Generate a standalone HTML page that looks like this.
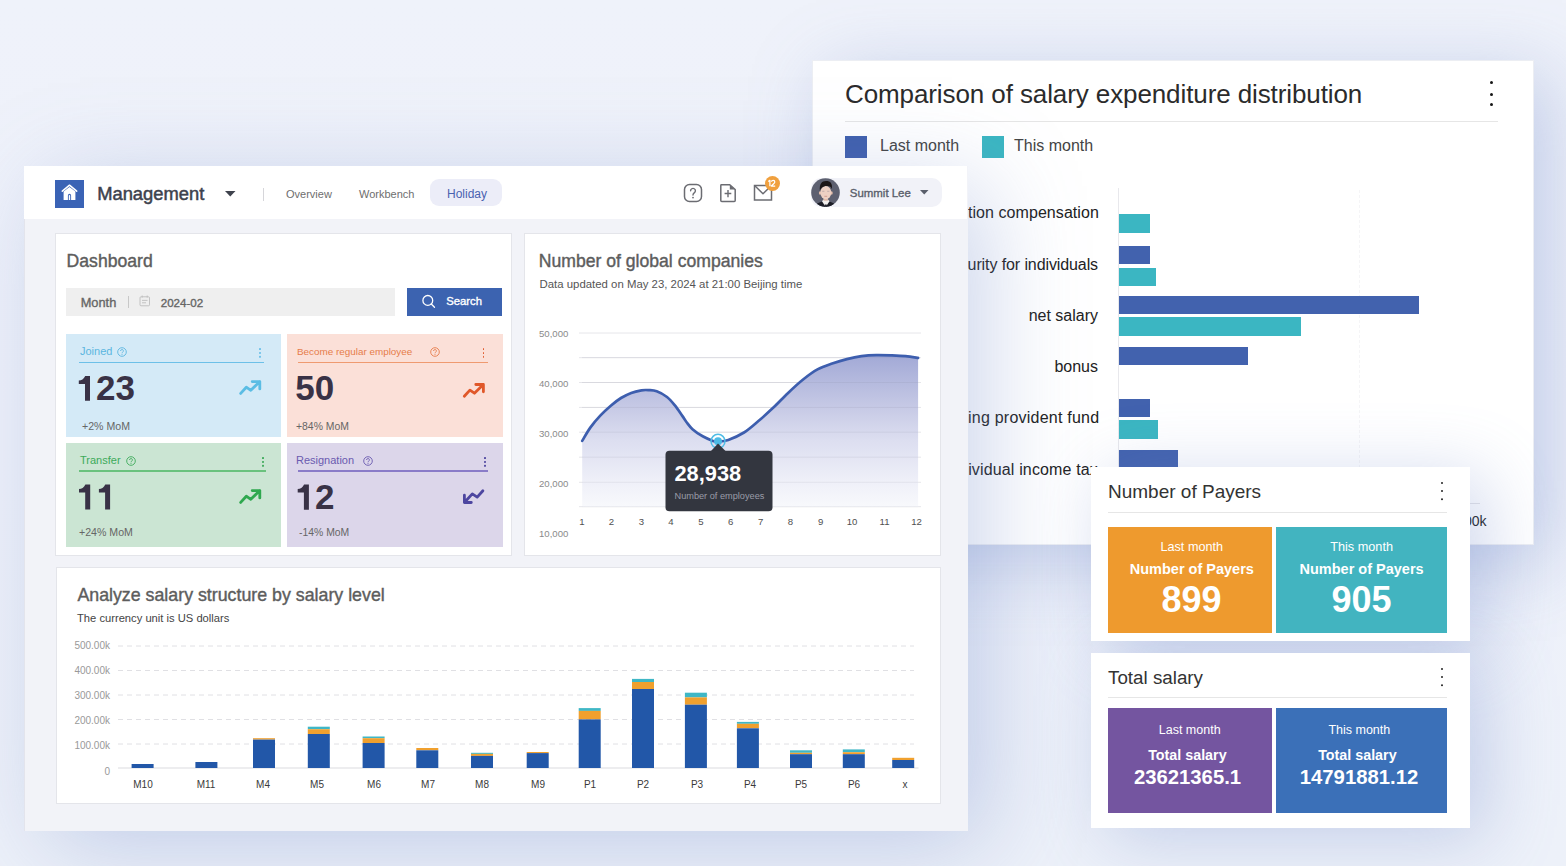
<!DOCTYPE html>
<html><head><meta charset="utf-8">
<style>
*{margin:0;padding:0;box-sizing:border-box}
html,body{width:1566px;height:866px;overflow:hidden}
body{position:relative;font-family:"Liberation Sans",sans-serif;background:#eef1f9;}
.a{position:absolute}
.t{position:absolute;white-space:nowrap;line-height:1}
#bg{left:0;top:0;width:1566px;height:866px;background:linear-gradient(180deg,#eff2fa 0%,#eef1fa 50%,#edf1f9 100%)}
/* comparison panel */
#cmp{left:811.5px;top:59.5px;width:722.5px;height:485px;background:#fff;border:1px solid #eceef3;box-shadow:16px 16px 70px 0px rgba(110,135,200,.36)}
/* main panel */
#main{left:23.8px;top:165.8px;width:943.8px;height:665.2px;background:#f2f3f8;box-shadow:20px 16px 90px -4px rgba(110,135,200,.36);border-left:1px solid #e3e4ec}
#hdr{left:24px;top:166px;width:943px;height:53px;background:#fff}
.card{position:absolute;background:#fff;border:1px solid #e4e5ea}
.tile{position:absolute}
.sm{position:absolute;background:#fff;box-shadow:16px 10px 70px 0px rgba(110,135,200,.32)}
</style></head><body>
<div class="a" id="bg"></div>

<!-- ============ Comparison panel ============ -->
<div class="a" id="cmp"></div>
<div class="t" style="left:845px;top:81px;font-size:26px;color:#2b2b2b;letter-spacing:-0.1px">Comparison of salary expenditure distribution</div>
<div class="a" style="left:1489.8px;top:81.4px;width:3.1px;height:3.1px;border-radius:50%;background:#161616"></div>
<div class="a" style="left:1489.8px;top:92.5px;width:3.1px;height:3.1px;border-radius:50%;background:#161616"></div>
<div class="a" style="left:1489.8px;top:103.2px;width:3.1px;height:3.1px;border-radius:50%;background:#161616"></div>
<div class="a" style="left:845px;top:121px;width:653px;height:1px;background:#e6e6e6"></div>
<div class="a" style="left:845px;top:135.5px;width:22px;height:22px;background:#3f5fad"></div>
<div class="t" style="left:880px;top:138px;font-size:16px;color:#444">Last month</div>
<div class="a" style="left:981.5px;top:135.5px;width:22px;height:22px;background:#3bb6c2"></div>
<div class="t" style="left:1014px;top:138px;font-size:16px;color:#444">This month</div>
<div class="a" style="left:1118px;top:188px;width:1px;height:316px;background:#e8e8ec"></div>
<div class="a" style="left:1118px;top:503px;width:362px;height:1px;background:#e4e4e8"></div>
<div class="a" style="left:1359px;top:190px;width:0;height:313px;border-left:1px dashed #f5f5f7"></div>
<!-- labels -->
<div class="t" style="left:968px;width:130px;text-align:right;top:205px;font-size:16px;letter-spacing:0.06px;color:#222">tion compensation</div>
<div class="t" style="left:967.5px;width:130.5px;text-align:right;top:257px;font-size:16px;letter-spacing:-0.1px;color:#222">urity for individuals</div>
<div class="t" style="right:468px;top:308px;font-size:16px;color:#222">net salary</div>
<div class="t" style="right:468px;top:359px;font-size:16px;color:#222">bonus</div>
<div class="t" style="left:968px;width:130px;text-align:right;top:410px;font-size:16px;letter-spacing:0.23px;color:#222">ing provident fund</div>
<div class="t" style="left:968px;width:130px;text-align:right;top:462px;font-size:16px;letter-spacing:0.15px;color:#222">ividual income tax</div>
<div class="t" style="right:79.5px;top:514px;font-size:14px;color:#222">600.00k</div>
<!-- bars -->
<div class="a" style="left:1119px;top:214px;width:31px;height:18.5px;background:#3bb6c2"></div>
<div class="a" style="left:1119px;top:245.5px;width:31px;height:18.5px;background:#4262ae"></div>
<div class="a" style="left:1119px;top:267.5px;width:36.5px;height:18.5px;background:#3bb6c2"></div>
<div class="a" style="left:1119px;top:295.5px;width:299.5px;height:18.5px;background:#4262ae"></div>
<div class="a" style="left:1119px;top:317px;width:182px;height:18.5px;background:#3bb6c2"></div>
<div class="a" style="left:1119px;top:346.5px;width:128.5px;height:18.5px;background:#4262ae"></div>
<div class="a" style="left:1119px;top:398.5px;width:31px;height:18.5px;background:#4262ae"></div>
<div class="a" style="left:1119px;top:420px;width:38.5px;height:18.5px;background:#3bb6c2"></div>
<div class="a" style="left:1119px;top:449.5px;width:58.5px;height:18.5px;background:#4262ae"></div>

<!-- ============ Main panel ============ -->
<div class="a" id="main"></div>
<div class="a" id="hdr"></div>
<!-- logo -->
<div class="a" style="left:55px;top:180px;width:29px;height:28px;background:#3a63b5"></div>
<svg class="a" style="left:55px;top:180px" width="29" height="28" viewBox="0 0 29 28">
  <path d="M7.3 11.2 L14.5 5.2 L21.7 11.2" fill="none" stroke="#fff" stroke-width="1.5" stroke-linecap="round" stroke-linejoin="round"/>
  <path d="M8.6 11.6 L14.5 6.9 L20.4 11.6 V19.9 H8.6 Z" fill="#fff"/>
  <path d="M12.9 19.9 V15.4 a1.6 1.6 0 0 1 3.2 0 V19.9 Z" fill="#3a63b5"/>
  <path d="M13.8 19.9 V15.6 a0.7 0.7 0 0 1 1.4 0 V19.9" fill="#fff"/>
</svg>
<div class="t" style="left:97.2px;top:184.9px;font-size:18.35px;-webkit-text-stroke-width:0.5px;color:#3d424d">Management</div>
<svg class="a" style="left:225px;top:191px" width="11" height="6"><path d="M0 0 H10.5 L5.25 5.5Z" fill="#3f434d"/></svg>
<div class="a" style="left:263px;top:188px;width:1px;height:13px;background:#d6d6da"></div>
<div class="t" style="left:286px;top:188.5px;font-size:11px;color:#6e6e6e">Overview</div>
<div class="t" style="left:359px;top:188.5px;font-size:11px;color:#6e6e6e">Workbench</div>
<div class="a" style="left:430px;top:179px;width:72px;height:27px;border-radius:9px;background:#ecedf8"></div>
<div class="t" style="left:447px;top:187.5px;font-size:12px;color:#4a62b0">Holiday</div>
<!-- header icons -->
<svg class="a" style="left:683px;top:183px" width="20" height="20" viewBox="0 0 20 20">
  <rect x="1.5" y="1.5" width="17" height="17" rx="5" fill="none" stroke="#6b6c72" stroke-width="1.5"/>
  <path d="M7.6 7.8 a2.4 2.4 0 1 1 3.6 2.1 c-0.9 0.7 -1.2 1.1 -1.2 2.2" fill="none" stroke="#6b6c72" stroke-width="1.4" stroke-linecap="round"/>
  <circle cx="10" cy="14.6" r="0.9" fill="#6b6c72"/>
</svg>
<svg class="a" style="left:719px;top:183px" width="18" height="20" viewBox="0 0 18 20">
  <path d="M2 1.8 H10.8 L16.2 6.5 V17.5 a1 1 0 0 1 -1 1 H2.8 a1 1 0 0 1 -1 -1 V2.6 a0.8 0.8 0 0 1 0.8 -0.8Z" fill="none" stroke="#6b6c72" stroke-width="1.5" stroke-linejoin="round"/>
  <path d="M10.8 1.8 V6.5 H16.2 Z" fill="#6b6c72"/>
  <path d="M5.6 10.5 H12.3 M9 7 V14.2" stroke="#6b6c72" stroke-width="1.4"/>
</svg>
<svg class="a" style="left:753px;top:184px" width="20" height="18" viewBox="0 0 20 18">
  <rect x="1.5" y="1.5" width="17" height="14.5" fill="none" stroke="#6b6c72" stroke-width="1.5"/>
  <path d="M1.8 1.8 L10 9.8 L18.2 1.8" fill="none" stroke="#6b6c72" stroke-width="1.5" stroke-linejoin="round"/>
</svg>
<div class="a" style="left:764.8px;top:175.9px;width:15px;height:15px;border-radius:50%;background:#f0a03e"></div>
<svg class="a" style="left:0;top:0" width="1566" height="866"><path d="M768.2 181.5 L769.9 180.3 V186.3 M771.4 181.8 C771.6 180.1 774.8 179.9 774.8 182 C774.8 183.3 772.7 184.3 771.4 186 H775.2" fill="none" stroke="#fff" stroke-width="1.25" stroke-linejoin="round"/></svg>
<!-- user -->
<div class="a" style="left:811px;top:178px;width:131px;height:28.5px;border-radius:10px;background:#f1f2f8"></div>
<svg class="a" style="left:810.5px;top:178px" width="29" height="29" viewBox="0 0 29 29">
  <defs><clipPath id="av"><circle cx="14.5" cy="14.5" r="14.3"/></clipPath></defs>
  <g clip-path="url(#av)">
    <rect width="29" height="29" fill="#5d6070"/>
    <path d="M3.5 29 C4.5 26 7.5 24.4 11 23.4 L14.7 26.5 L18.5 23.4 C22 24.4 24.5 26 25.5 29 Z" fill="#1c1d26"/>
    <path d="M11 23.2 L14.7 29 L18.5 23.2 L17 21.5 H12.5 Z" fill="#f2efed"/>
    <path d="M13.7 26.6 h2 l0.5 2.4 h-3z" fill="#23252f"/>
    <rect x="12.6" y="18.5" width="4.3" height="4.2" fill="#dfb9a8"/>
    <ellipse cx="9" cy="15" rx="1.1" ry="1.7" fill="#e2bcaa"/>
    <ellipse cx="20.6" cy="15" rx="1.1" ry="1.7" fill="#e2bcaa"/>
    <ellipse cx="14.8" cy="14.6" rx="5.5" ry="6.6" fill="#edd0c3"/>
    <path d="M8.9 12.8 C8.2 6.2 10.6 3 15 3 C19.6 3 21.7 5.6 20.8 11.2 C20.1 8.6 18.6 7.9 15.6 8.1 C12.6 8.3 10.3 9.2 8.9 12.8 Z" fill="#1b1617"/>
    <path d="M11.2 13.3 h2.2 M16.2 13.3 h2.2" stroke="#b7a6a6" stroke-width="0.8"/>
    <path d="M13.4 18.3 h2.8" stroke="#c98f86" stroke-width="0.8"/>
  </g>
</svg>
<div class="t" style="left:849.8px;top:188.4px;font-size:11.45px;-webkit-text-stroke-width:0.35px;color:#5a5f6b">Summit Lee</div>
<svg class="a" style="left:920px;top:190px" width="9" height="5"><path d="M0 0 H8.5 L4.25 4.5Z" fill="#5a5f6b"/></svg>

<!-- Dashboard card -->
<div class="card" style="left:55px;top:232.5px;width:457px;height:323px"></div>
<div class="t" style="left:66.6px;top:252.5px;font-size:17.6px;-webkit-text-stroke-width:0.4px;color:#5d5d5d">Dashboard</div>
<div class="a" style="left:66px;top:288px;width:328.5px;height:28px;background:#efefef"></div>
<div class="t" style="left:80.7px;top:297px;font-size:12.8px;-webkit-text-stroke-width:0.35px;color:#666">Month</div>
<div class="a" style="left:128px;top:296px;width:1px;height:12px;background:#c8c8c8"></div>
<svg class="a" style="left:139px;top:295px" width="12" height="12" viewBox="0 0 12 12">
  <rect x="1" y="1.8" width="9.5" height="9" rx="1" fill="none" stroke="#bdbdbd" stroke-width="0.9"/>
  <path d="M3.2 0.5 V2.6 M8.2 0.5 V2.6 M3 5.4 H8.5 M3 7.8 H7" stroke="#bdbdbd" stroke-width="0.9"/>
</svg>
<div class="t" style="left:160.7px;top:297px;font-size:11.6px;-webkit-text-stroke-width:0.35px;color:#666">2024-02</div>
<div class="a" style="left:407px;top:287.5px;width:94.5px;height:28px;background:#3c63b0"></div>
<svg class="a" style="left:421px;top:294px" width="16" height="16" viewBox="0 0 16 16">
  <circle cx="6.8" cy="6.4" r="4.9" fill="none" stroke="#fff" stroke-width="1.3"/>
  <path d="M10.3 10 L13.5 13.3" stroke="#fff" stroke-width="1.3" stroke-linecap="round"/>
</svg>
<div class="t" style="left:446.2px;top:295.5px;font-size:11.3px;-webkit-text-stroke-width:0.35px;color:#fff">Search</div>

<!-- tiles -->
<div class="tile" style="left:65.5px;top:334px;width:215px;height:103px;background:#d4eaf7"></div>
<div class="t" style="left:80px;top:346px;font-size:11px;color:#5bb6e0">Joined</div>
<svg class="a" style="left:117px;top:347px" width="10" height="10" viewBox="0 0 10 10"><circle cx="5" cy="5" r="4.3" fill="none" stroke="#5bb6e0" stroke-width="0.9"/><path d="M3.6 4 a1.4 1.4 0 1 1 2 1.2 c-0.5 0.3 -0.6 0.5 -0.6 1.1" fill="none" stroke="#5bb6e0" stroke-width="0.9"/><circle cx="5" cy="7.6" r="0.5" fill="#5bb6e0"/></svg>
<div class="a" style="left:259.1px;top:347.9px;width:1.7px;height:1.7px;border-radius:50%;background:#6cc0e8;box-shadow:0 3.9px 0 #6cc0e8,0 7.8px 0 #6cc0e8"></div>
<div class="a" style="left:79px;top:361.5px;width:185px;height:1.5px;background:#6cc0e8"></div>
<div class="t" style="left:82px;top:420.5px;font-size:10.6px;color:#666">+2% MoM</div>

<div class="tile" style="left:287px;top:334px;width:215.5px;height:103px;background:#fbe0d8"></div>
<div class="t" style="left:297px;top:346.5px;font-size:9.9px;color:#e67c4a">Become regular employee</div>
<svg class="a" style="left:430px;top:347px" width="10" height="10" viewBox="0 0 10 10"><circle cx="5" cy="5" r="4.3" fill="none" stroke="#e67c4a" stroke-width="0.9"/><path d="M3.6 4 a1.4 1.4 0 1 1 2 1.2 c-0.5 0.3 -0.6 0.5 -0.6 1.1" fill="none" stroke="#e67c4a" stroke-width="0.9"/><circle cx="5" cy="7.6" r="0.5" fill="#e67c4a"/></svg>
<div class="a" style="left:482.8px;top:347.9px;width:1.7px;height:1.7px;border-radius:50%;background:#e0582a;box-shadow:0 3.9px 0 #e0582a,0 7.8px 0 #e0582a"></div>
<div class="a" style="left:298px;top:361.5px;width:189.5px;height:1.5px;background:#ef9a70"></div>
<div class="t" style="left:296px;top:422px;font-size:10.4px;color:#666">+84% MoM</div>

<div class="tile" style="left:65.5px;top:443px;width:215px;height:103.5px;background:#cbe5d3"></div>
<div class="t" style="left:80px;top:455px;font-size:11px;color:#3daa5a">Transfer</div>
<svg class="a" style="left:125.5px;top:456px" width="10" height="10" viewBox="0 0 10 10"><circle cx="5" cy="5" r="4.3" fill="none" stroke="#3daa5a" stroke-width="0.9"/><path d="M3.6 4 a1.4 1.4 0 1 1 2 1.2 c-0.5 0.3 -0.6 0.5 -0.6 1.1" fill="none" stroke="#3daa5a" stroke-width="0.9"/><circle cx="5" cy="7.6" r="0.5" fill="#3daa5a"/></svg>
<div class="a" style="left:262.3px;top:456.9px;width:1.7px;height:1.7px;border-radius:50%;background:#3daa5a;box-shadow:0 3.9px 0 #3daa5a,0 7.8px 0 #3daa5a"></div>
<div class="a" style="left:79px;top:470px;width:187px;height:1.5px;background:#6ac27e"></div>
<div class="t" style="left:79px;top:526.5px;font-size:10.6px;color:#666">+24% MoM</div>

<div class="tile" style="left:287px;top:443px;width:215.5px;height:103.5px;background:#dcd6ea"></div>
<div class="t" style="left:296px;top:455px;font-size:11px;color:#6a5ab0">Resignation</div>
<svg class="a" style="left:362.5px;top:456px" width="10" height="10" viewBox="0 0 10 10"><circle cx="5" cy="5" r="4.3" fill="none" stroke="#6a5ab0" stroke-width="0.9"/><path d="M3.6 4 a1.4 1.4 0 1 1 2 1.2 c-0.5 0.3 -0.6 0.5 -0.6 1.1" fill="none" stroke="#6a5ab0" stroke-width="0.9"/><circle cx="5" cy="7.6" r="0.5" fill="#6a5ab0"/></svg>
<div class="a" style="left:484.3px;top:456.9px;width:1.7px;height:1.7px;border-radius:50%;background:#5048a0;box-shadow:0 3.9px 0 #5048a0,0 7.8px 0 #5048a0"></div>
<div class="a" style="left:297.5px;top:470px;width:190px;height:1.5px;background:#8a7cc8"></div>
<div class="t" style="left:299px;top:528px;font-size:10.4px;color:#666">-14% MoM</div>

<svg class="a" style="left:0;top:0" width="1566" height="866"><g fill="none" stroke-width="2.8" stroke-linecap="round" stroke-linejoin="round"><path d="M240.7 393.4 L246.3 387.2 L250.8 390.3 L259.8 381.6 M252.2 381.6 H259.8 V388.9" stroke="#5bbde4"/><path d="M464.3 396.3 L469.9 390.1 L474.4 393.2 L483.4 384.5 M475.8 384.5 H483.4 V391.8" stroke="#e0582a"/><path d="M240.7 502.4 L246.3 496.2 L250.8 499.3 L259.8 490.6 M252.2 490.6 H259.8 V497.9" stroke="#2fa84f"/><path d="M482.9 490.7 L477.2 497.1 L472.3 493.9 L464.4 502.5 M464.4 495.2 V502.5 H471.3" stroke="#4d46a0"/></g></svg>
<svg class="a" style="left:0;top:0" width="1566" height="866"><path d="M85.2 376 H90.0 V400.8 H85.0 V384.1 H78.8 V380.4 C81.5 380.4 83.7 379.4 85.2 376Z M85.4 484.5 H90.2 V509.6 H85.2 V492.6 H79.0 V488.9 C81.7 488.9 83.9 487.9 85.4 484.5Z M105.3 484.5 H110.1 V509.6 H105.1 V492.6 H98.9 V488.9 C101.6 488.9 103.8 487.9 105.3 484.5Z M304.1 484.5 H308.9 V509.7 H303.9 V492.6 H297.7 V488.9 C300.4 488.9 302.6 487.9 304.1 484.5Z" fill="#393246"/></svg>
<div class="t" style="left:96px;top:370px;font-size:35px;font-weight:bold;color:#393246">23</div>
<div class="t" style="left:315.1px;top:478.5px;font-size:35px;font-weight:bold;color:#393246">2</div>
<div class="t" style="left:295.2px;top:370.3px;font-size:35px;font-weight:bold;color:#393246">50</div>
<!-- Line chart card -->
<div class="card" style="left:524px;top:232.5px;width:417px;height:323px"></div>
<div class="t" style="left:538.8px;top:252.6px;font-size:17.6px;-webkit-text-stroke-width:0.4px;color:#5d5d5d">Number of global companies</div>
<div class="t" style="left:539.5px;top:279.3px;font-size:11.4px;color:#555">Data updated on May 23, 2024 at 21:00 Beijing time</div>
<svg class="a" style="left:0;top:0" width="1566" height="866">
  <defs>
    <linearGradient id="lg" x1="0" y1="355" x2="0" y2="507" gradientUnits="userSpaceOnUse">
      <stop offset="0" stop-color="#a2a9d6"/>
      <stop offset="0.36" stop-color="#c8cbe6"/>
      <stop offset="0.56" stop-color="#dcdef0"/>
      <stop offset="0.82" stop-color="#eeeff8"/>
      <stop offset="1" stop-color="#f8f9fc"/>
    </linearGradient>
  </defs>
  <g stroke="#e6e6ea" stroke-width="1">
    <path d="M579 333H921M579 357.7H921M579 382.5H921M579 407.4H921M579 432.2H921M579 457.2H921M579 482.3H921M579 506.7H921"/>
  </g>
  <path id="curveFill" d="M582.2 440.9 C583.6 438.7 587.2 431.9 590.3 427.6 C593.3 423.4 597.1 419.0 600.5 415.4 C603.9 411.8 607.4 408.6 610.8 405.7 C614.2 402.8 617.6 400.1 621.0 398.0 C624.4 395.9 627.8 394.2 631.2 392.9 C634.6 391.6 638.5 390.8 641.4 390.3 C644.3 389.8 646.0 389.9 648.6 390.1 C651.2 390.3 653.6 390.2 656.7 391.3 C659.8 392.4 663.9 394.6 667.0 397.0 C670.1 399.4 672.6 402.6 675.1 405.7 C677.6 408.8 680.4 413.2 682.3 415.9 C684.2 418.6 684.7 419.8 686.4 422.0 C688.1 424.2 689.8 426.8 692.5 429.2 C695.2 431.6 699.3 434.4 702.7 436.3 C706.1 438.2 710.4 440.0 712.9 440.9 C715.4 441.8 715.4 441.8 718.0 441.6 C720.6 441.4 724.0 441.4 728.3 439.9 C732.6 438.4 738.9 435.7 744.0 432.5 C749.1 429.3 753.8 424.9 758.7 420.8 C763.6 416.7 768.5 412.2 773.4 407.6 C778.3 403.0 783.2 397.5 788.1 392.9 C793.0 388.2 797.9 383.6 802.8 379.7 C807.7 375.8 812.6 372.1 817.5 369.4 C822.4 366.7 827.3 365.2 832.2 363.5 C837.1 361.8 842.0 360.3 846.9 359.1 C851.8 357.9 856.6 356.9 861.5 356.2 C866.4 355.5 871.3 355.2 876.2 355.1 C881.1 355.0 886.0 355.2 890.9 355.4 C895.8 355.6 901.1 355.8 905.6 356.2 C910.1 356.6 916.0 357.6 918.1 357.9 V507 H582.2Z" fill="url(#lg)"/>
  <g stroke="#707080" stroke-opacity="0.10" stroke-width="1"><path d="M582 357.7H918M582 382.5H918M582 407.4H918M582 432.2H918M582 457.2H918M582 482.3H918M582 506.7H918"/></g>
  <path id="curve" d="M582.2 440.9 C583.6 438.7 587.2 431.9 590.3 427.6 C593.3 423.4 597.1 419.0 600.5 415.4 C603.9 411.8 607.4 408.6 610.8 405.7 C614.2 402.8 617.6 400.1 621.0 398.0 C624.4 395.9 627.8 394.2 631.2 392.9 C634.6 391.6 638.5 390.8 641.4 390.3 C644.3 389.8 646.0 389.9 648.6 390.1 C651.2 390.3 653.6 390.2 656.7 391.3 C659.8 392.4 663.9 394.6 667.0 397.0 C670.1 399.4 672.6 402.6 675.1 405.7 C677.6 408.8 680.4 413.2 682.3 415.9 C684.2 418.6 684.7 419.8 686.4 422.0 C688.1 424.2 689.8 426.8 692.5 429.2 C695.2 431.6 699.3 434.4 702.7 436.3 C706.1 438.2 710.4 440.0 712.9 440.9 C715.4 441.8 715.4 441.8 718.0 441.6 C720.6 441.4 724.0 441.4 728.3 439.9 C732.6 438.4 738.9 435.7 744.0 432.5 C749.1 429.3 753.8 424.9 758.7 420.8 C763.6 416.7 768.5 412.2 773.4 407.6 C778.3 403.0 783.2 397.5 788.1 392.9 C793.0 388.2 797.9 383.6 802.8 379.7 C807.7 375.8 812.6 372.1 817.5 369.4 C822.4 366.7 827.3 365.2 832.2 363.5 C837.1 361.8 842.0 360.3 846.9 359.1 C851.8 357.9 856.6 356.9 861.5 356.2 C866.4 355.5 871.3 355.2 876.2 355.1 C881.1 355.0 886.0 355.2 890.9 355.4 C895.8 355.6 901.1 355.8 905.6 356.2 C910.1 356.6 916.0 357.6 918.1 357.9" fill="none" stroke="#3d5eae" stroke-width="2.7" stroke-linecap="round"/>
  <circle cx="718" cy="441.3" r="7" fill="none" stroke="#4fbde6" stroke-width="1.5"/>
  <circle cx="718" cy="441.3" r="4" fill="#4cbbe6"/>
  <path d="M711 451 L718 443.5 L725.5 451Z" fill="#33363f"/>
  <rect x="665.5" y="450.8" width="107" height="60.5" rx="4" fill="#33363f"/>
</svg>
<div class="t" style="left:674.5px;top:463px;font-size:21.8px;font-weight:bold;color:#fff">28,938</div>
<div class="t" style="left:674.5px;top:491.7px;font-size:9.2px;color:#9a9ca8">Number of employees</div>
<!-- y labels -->
<div class="t" style="left:539px;top:329px;font-size:9.6px;color:#8a8a8a">50,000</div>
<div class="t" style="left:539px;top:379px;font-size:9.6px;color:#8a8a8a">40,000</div>
<div class="t" style="left:539px;top:429px;font-size:9.6px;color:#8a8a8a">30,000</div>
<div class="t" style="left:539px;top:478.5px;font-size:9.6px;color:#8a8a8a">20,000</div>
<div class="t" style="left:539px;top:528.5px;font-size:9.6px;color:#8a8a8a">10,000</div>
<!-- x labels -->
<div id="xl"><div class="t" style="left:567px;width:30px;text-align:center;top:517.3px;font-size:9.6px;color:#505050">1</div><div class="t" style="left:596.4px;width:30px;text-align:center;top:517.3px;font-size:9.6px;color:#505050">2</div><div class="t" style="left:626.3px;width:30px;text-align:center;top:517.3px;font-size:9.6px;color:#505050">3</div><div class="t" style="left:656px;width:30px;text-align:center;top:517.3px;font-size:9.6px;color:#505050">4</div><div class="t" style="left:686px;width:30px;text-align:center;top:517.3px;font-size:9.6px;color:#505050">5</div><div class="t" style="left:715.7px;width:30px;text-align:center;top:517.3px;font-size:9.6px;color:#505050">6</div><div class="t" style="left:745.6px;width:30px;text-align:center;top:517.3px;font-size:9.6px;color:#505050">7</div><div class="t" style="left:775.5px;width:30px;text-align:center;top:517.3px;font-size:9.6px;color:#505050">8</div><div class="t" style="left:805.6px;width:30px;text-align:center;top:517.3px;font-size:9.6px;color:#505050">9</div><div class="t" style="left:837px;width:30px;text-align:center;top:517.3px;font-size:9.6px;color:#505050">10</div><div class="t" style="left:869.6px;width:30px;text-align:center;top:517.3px;font-size:9.6px;color:#505050">11</div><div class="t" style="left:901.6px;width:30px;text-align:center;top:517.3px;font-size:9.6px;color:#505050">12</div></div>

<!-- Bar chart card -->
<div class="card" style="left:55.5px;top:567px;width:885.5px;height:237px"></div>
<div class="t" style="left:77.4px;top:587.4px;font-size:17.8px;-webkit-text-stroke-width:0.4px;color:#5d5d5d">Analyze salary structure by salary level</div>
<div class="t" style="left:77px;top:612.5px;font-size:11.2px;color:#444">The currency unit is US dollars</div>
<svg class="a" style="left:0;top:0" width="1566" height="866">
  <g stroke="#e0e0e4" stroke-width="1" stroke-dasharray="5 4">
    <path d="M118 646H914M118 670.5H914M118 695H914M118 719.5H914M118 744H914"/>
  </g>
  <path d="M118 768H918.5" stroke="#dcdce0" stroke-width="1.2"/>
  <g id="bars"><rect x="131.6" y="764" width="22" height="4.0" fill="#2257a8"/><rect x="195.4" y="762" width="22" height="6.0" fill="#2257a8"/><rect x="253" y="738.2" width="22" height="1.4" fill="#f0a02e"/><rect x="253" y="739.6" width="22" height="28.4" fill="#2257a8"/><rect x="307.8" y="726.7" width="22" height="2.5" fill="#3fb7c6"/><rect x="307.8" y="729.2" width="22" height="4.8" fill="#f0a02e"/><rect x="307.8" y="734" width="22" height="34.0" fill="#2257a8"/><rect x="362.6" y="736.5" width="22" height="1.7" fill="#3fb7c6"/><rect x="362.6" y="738.2" width="22" height="4.8" fill="#f0a02e"/><rect x="362.6" y="743" width="22" height="25.0" fill="#2257a8"/><rect x="416.3" y="748" width="22" height="2.3" fill="#f0a02e"/><rect x="416.3" y="750.3" width="22" height="17.7" fill="#2257a8"/><rect x="471" y="752.8" width="22" height="1.1" fill="#3fb7c6"/><rect x="471" y="753.9" width="22" height="2.0" fill="#f0a02e"/><rect x="471" y="755.9" width="22" height="12.1" fill="#2257a8"/><rect x="526.7" y="752" width="22" height="1.1" fill="#f0a02e"/><rect x="526.7" y="753.1" width="22" height="14.9" fill="#2257a8"/><rect x="578.7" y="708.1" width="22" height="2.8" fill="#3fb7c6"/><rect x="578.7" y="710.9" width="22" height="8.5" fill="#f0a02e"/><rect x="578.7" y="719.4" width="22" height="48.6" fill="#2257a8"/><rect x="632" y="678.9" width="22" height="3.1" fill="#3fb7c6"/><rect x="632" y="682" width="22" height="7.0" fill="#f0a02e"/><rect x="632" y="689" width="22" height="79.0" fill="#2257a8"/><rect x="684.9" y="692.7" width="22" height="4.7" fill="#3fb7c6"/><rect x="684.9" y="697.4" width="22" height="7.3" fill="#f0a02e"/><rect x="684.9" y="704.7" width="22" height="63.3" fill="#2257a8"/><rect x="736.9" y="721.9" width="22" height="1.9" fill="#3fb7c6"/><rect x="736.9" y="723.8" width="22" height="4.5" fill="#f0a02e"/><rect x="736.9" y="728.3" width="22" height="39.7" fill="#2257a8"/><rect x="790" y="750.3" width="22" height="2.5" fill="#3fb7c6"/><rect x="790" y="752.8" width="22" height="1.4" fill="#f0a02e"/><rect x="790" y="754.2" width="22" height="13.8" fill="#2257a8"/><rect x="842.8" y="749.4" width="22" height="2.8" fill="#3fb7c6"/><rect x="842.8" y="752.2" width="22" height="2.0" fill="#f0a02e"/><rect x="842.8" y="754.2" width="22" height="13.8" fill="#2257a8"/><rect x="892.2" y="757.8" width="22" height="2.2" fill="#f0a02e"/><rect x="892.2" y="760" width="22" height="8.0" fill="#2257a8"/></g>
</svg>
<div class="t" style="right:1456px;top:641px;font-size:10px;color:#999">500.00k</div>
<div class="t" style="right:1456px;top:665.5px;font-size:10px;color:#999">400.00k</div>
<div class="t" style="right:1456px;top:690.5px;font-size:10px;color:#999">300.00k</div>
<div class="t" style="right:1456px;top:715.5px;font-size:10px;color:#999">200.00k</div>
<div class="t" style="right:1456px;top:740.5px;font-size:10px;color:#999">100.00k</div>
<div class="t" style="right:1456px;top:766.5px;font-size:10px;color:#999">0</div>
<div id="barlabels"><div class="t" style="left:123px;width:40px;text-align:center;top:779.5px;font-size:10px;color:#3a3a3a">M10</div><div class="t" style="left:186px;width:40px;text-align:center;top:779.5px;font-size:10px;color:#3a3a3a">M11</div><div class="t" style="left:243px;width:40px;text-align:center;top:779.5px;font-size:10px;color:#3a3a3a">M4</div><div class="t" style="left:297px;width:40px;text-align:center;top:779.5px;font-size:10px;color:#3a3a3a">M5</div><div class="t" style="left:354px;width:40px;text-align:center;top:779.5px;font-size:10px;color:#3a3a3a">M6</div><div class="t" style="left:408px;width:40px;text-align:center;top:779.5px;font-size:10px;color:#3a3a3a">M7</div><div class="t" style="left:462px;width:40px;text-align:center;top:779.5px;font-size:10px;color:#3a3a3a">M8</div><div class="t" style="left:518px;width:40px;text-align:center;top:779.5px;font-size:10px;color:#3a3a3a">M9</div><div class="t" style="left:570px;width:40px;text-align:center;top:779.5px;font-size:10px;color:#3a3a3a">P1</div><div class="t" style="left:623px;width:40px;text-align:center;top:779.5px;font-size:10px;color:#3a3a3a">P2</div><div class="t" style="left:677px;width:40px;text-align:center;top:779.5px;font-size:10px;color:#3a3a3a">P3</div><div class="t" style="left:730px;width:40px;text-align:center;top:779.5px;font-size:10px;color:#3a3a3a">P4</div><div class="t" style="left:781px;width:40px;text-align:center;top:779.5px;font-size:10px;color:#3a3a3a">P5</div><div class="t" style="left:834px;width:40px;text-align:center;top:779.5px;font-size:10px;color:#3a3a3a">P6</div><div class="t" style="left:885px;width:40px;text-align:center;top:779.5px;font-size:10px;color:#3a3a3a">x</div></div>

<!-- ============ small cards ============ -->
<div class="sm" style="left:1090.5px;top:466.5px;width:379px;height:174.5px"></div>
<div class="sm" style="left:1090.5px;top:653px;width:379px;height:174.5px"></div>
<div class="a" style="left:1090.5px;top:466.5px;width:379px;height:174.5px;background:#fff"></div>
<div class="t" style="left:1108px;top:481.5px;font-size:19px;color:#333">Number of Payers</div>
<div class="a" style="left:1441.2px;top:482.2px;width:2.3px;height:2.3px;border-radius:50%;background:#222;box-shadow:0 8.1px 0 #222,0 16.2px 0 #222"></div>
<div class="a" style="left:1108px;top:511.5px;width:339px;height:1.2px;background:#e6e6e6"></div>
<div class="a" style="left:1107.5px;top:527px;width:164px;height:105.5px;background:#ee9a2e"></div>
<div class="a" style="left:1276px;top:527px;width:170.5px;height:105.5px;background:#42b4c0"></div>
<div class="t" style="left:1091.8px;width:200px;text-align:center;top:541px;font-size:12.7px;color:#fff">Last month</div>
<div class="t" style="left:1091.8px;width:200px;text-align:center;top:562.3px;font-size:14.5px;font-weight:bold;color:#fff">Number of Payers</div>
<div class="t" style="left:1091.5px;width:200px;text-align:center;top:581.6px;font-size:36px;font-weight:bold;color:#fff">899</div>
<div class="t" style="left:1261.6px;width:200px;text-align:center;top:541px;font-size:12.7px;color:#fff">This month</div>
<div class="t" style="left:1261.6px;width:200px;text-align:center;top:562.3px;font-size:14.5px;font-weight:bold;color:#fff">Number of Payers</div>
<div class="t" style="left:1261.6px;width:200px;text-align:center;top:581.6px;font-size:36px;font-weight:bold;color:#fff">905</div>

<div class="a" style="left:1090.5px;top:653px;width:379px;height:174.5px;background:#fff"></div>
<div class="t" style="left:1108px;top:668.5px;font-size:18.8px;color:#333">Total salary</div>
<div class="a" style="left:1441.2px;top:667.6px;width:2.3px;height:2.3px;border-radius:50%;background:#222;box-shadow:0 8.1px 0 #222,0 16.2px 0 #222"></div>
<div class="a" style="left:1108px;top:697px;width:339px;height:1.2px;background:#e6e6e6"></div>
<div class="a" style="left:1107.5px;top:708px;width:164px;height:105px;background:#7455a0"></div>
<div class="a" style="left:1276px;top:708px;width:170.5px;height:105px;background:#3b70b8"></div>
<div class="t" style="left:1089.7px;width:200px;text-align:center;top:724px;font-size:12.5px;color:#fff">Last month</div>
<div class="t" style="left:1087.4px;width:200px;text-align:center;top:747.6px;font-size:14.3px;font-weight:bold;color:#fff">Total salary</div>
<div class="t" style="left:1087.5px;width:200px;text-align:center;top:767px;font-size:20.3px;font-weight:bold;color:#fff">23621365.1</div>
<div class="t" style="left:1259.3px;width:200px;text-align:center;top:724px;font-size:12.5px;color:#fff">This month</div>
<div class="t" style="left:1257.4px;width:200px;text-align:center;top:747.6px;font-size:14.3px;font-weight:bold;color:#fff">Total salary</div>
<div class="t" style="left:1259px;width:200px;text-align:center;top:767px;font-size:20.3px;font-weight:bold;color:#fff">14791881.12</div>
</body></html>
